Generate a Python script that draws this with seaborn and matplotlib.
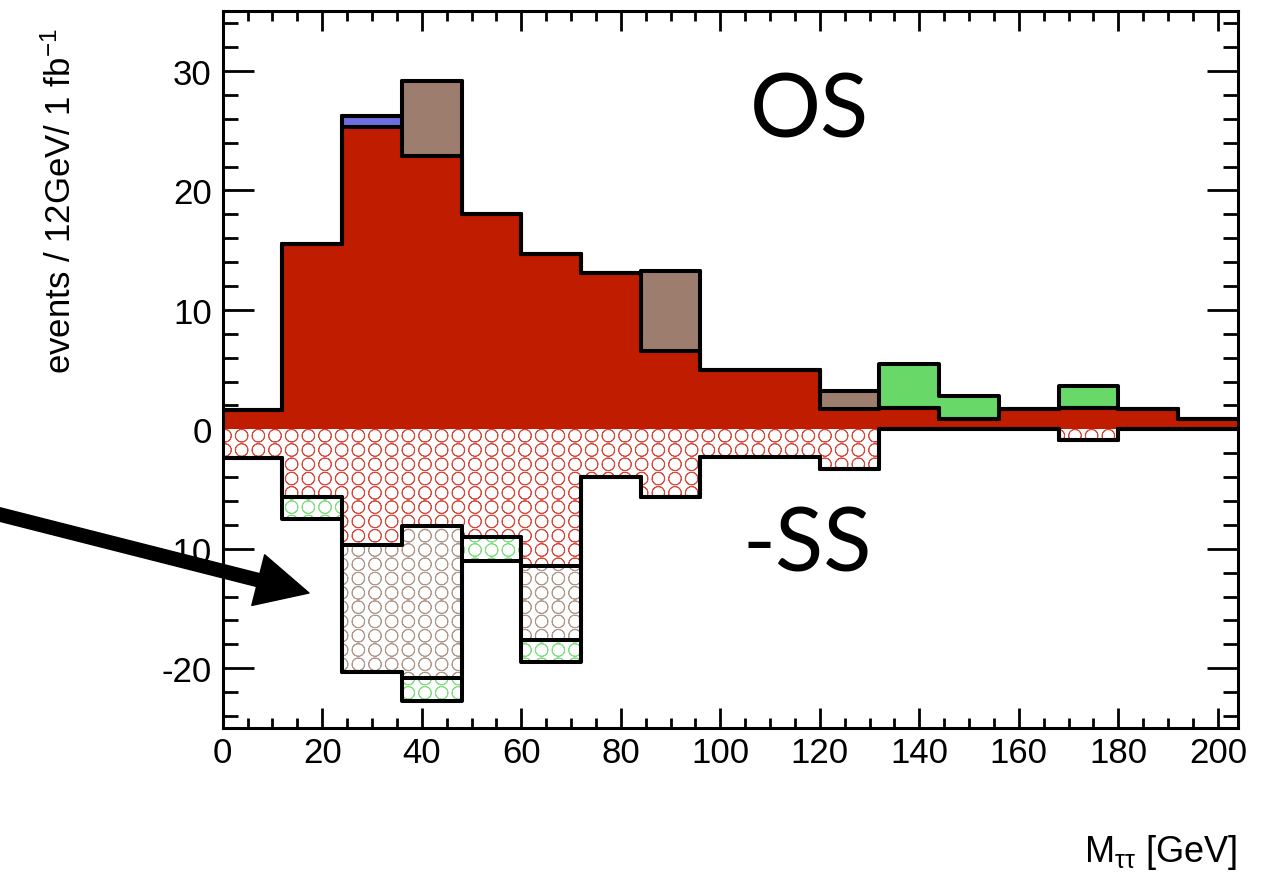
import numpy as np
import pandas as pd
import matplotlib
matplotlib.use("Agg")
import matplotlib.pyplot as plt
import matplotlib.hatch as mhatch
from matplotlib.path import Path
import seaborn as sns
from matplotlib.ticker import MultipleLocator

# ---------------- data ----------------
bin_edges = list(range(0, 205, 12))          # 0,12,...,204 (17 bins of 12 GeV)
bin_centers = [(a + b) / 2 for a, b in zip(bin_edges[:-1], bin_edges[1:])]

# opposite-sign (drawn upward), stacked bottom -> top
os_red   = [1.6, 15.5, 25.3, 22.9, 18.0, 14.7, 13.1, 6.6, 5.0, 5.0, 1.7, 1.8, 0.85, 1.7, 1.8, 1.7, 0.9]
os_blue  = [0.0, 0.0, 0.9, 0.0, 0.0, 0.0, 0.0, 0.0, 0.0, 0.0, 0.0, 0.0, 0.0, 0.0, 0.0, 0.0, 0.0]
os_brown = [0.0, 0.0, 0.0, 6.3, 0.0, 0.0, 0.0, 6.7, 0.0, 0.0, 1.5, 0.0, 0.0, 0.0, 0.0, 0.0, 0.0]
os_green = [0.0, 0.0, 0.0, 0.0, 0.0, 0.0, 0.0, 0.0, 0.0, 0.0, 0.0, 3.7, 1.95, 0.0, 1.8, 0.0, 0.0]

# same-sign (drawn downward as -SS), stacked from zero outward
ss_red   = [2.4, 5.7, 9.7, 8.1, 9.0, 11.4, 4.0, 5.7, 2.3, 2.3, 3.3, 0.0, 0.0, 0.0, 0.85, 0.0, 0.0]
ss_brown = [0.0, 0.0, 10.6, 12.7, 0.0, 6.2, 0.0, 0.0, 0.0, 0.0, 0.0, 0.0, 0.0, 0.0, 0.0, 0.0, 0.0]
ss_green = [0.0, 1.8, 0.0, 1.9, 2.0, 1.9, 0.0, 0.0, 0.0, 0.0, 0.0, 0.0, 0.0, 0.0, 0.0, 0.0, 0.0]

x_ticks = [0, 20, 40, 60, 80, 100, 120, 140, 160, 180, 200]
y_ticks = [-20, -10, 0, 10, 20, 30]


# ---------------- ROOT-like square grid of open circles for the 'O' hatch ----------------
class GridCircles(mhatch.HatchPatternBase):
    filled = False
    cols_per_unit = 6
    rows_per_unit = 7
    radius = 0.064
    inner = 0.94

    def __init__(self, hatch, density):
        n = hatch.count("O")
        self.ncols = n * self.cols_per_unit
        self.nrows = n * self.rows_per_unit
        circ = Path.unit_circle()
        # open ring: outer circle forward, inner circle backward
        self.shape_vertices = np.concatenate([circ.vertices, circ.vertices[::-1] * self.inner])
        self.shape_codes = np.concatenate([circ.codes, circ.codes])
        self.num_shapes = self.ncols * self.nrows
        self.num_vertices = self.num_shapes * len(self.shape_vertices)

    def set_vertices_and_codes(self, vertices, codes):
        sv = self.shape_vertices * self.radius
        m = len(sv)
        k = 0
        for r in range(self.nrows):
            for c in range(self.ncols):
                centre = ((c + 0.5) / self.ncols, (r + 0.5) / self.nrows)
                vertices[k * m:(k + 1) * m] = sv + centre
                codes[k * m:(k + 1) * m] = self.shape_codes
                k += 1


mhatch._hatch_types = [GridCircles if t is mhatch.LargeCircles else t
                       for t in mhatch._hatch_types]

# ---------------- style ----------------
sns.set_theme(style="ticks")
plt.rcParams["font.family"] = ["Liberation Sans", "DejaVu Sans"]
plt.rcParams["mathtext.fontset"] = "custom"
plt.rcParams["mathtext.rm"] = "Liberation Sans"
plt.rcParams["mathtext.it"] = "Liberation Sans"
plt.rcParams["mathtext.bf"] = "Liberation Sans:bold"
plt.rcParams["axes.unicode_minus"] = False
plt.rcParams["hatch.linewidth"] = 0.6
for k in ["text.color", "axes.labelcolor", "xtick.color", "ytick.color", "axes.edgecolor"]:
    plt.rcParams[k] = "black"

RED, BLUE, BROWN, GREEN = "#C01C00", "#6E6EE0", "#9D7E6E", "#68D968"
H_RED, H_BROWN, H_GREEN = "#D8483A", "#AE978A", "#7FDC7F"

fig = plt.figure(figsize=(12.67, 8.78), dpi=100)
ax = fig.add_axes([0.1758, 0.1697, 0.8011, 0.8163])


def layer_df(values):
    return pd.DataFrame({"mass": bin_centers, "w": list(values)})


def fill_layer(values, face, hatch=None, hatch_color=None):
    sns.histplot(data=layer_df(values), x="mass", weights="w", bins=bin_edges,
                 element="step", fill=True, color=face, alpha=1, linewidth=0,
                 ax=ax, legend=False)
    coll = ax.collections[-1]
    coll.set_linewidth(0)
    if hatch is not None:
        coll.set_facecolor("white")
        coll.set_edgecolor(hatch_color)
        coll.set_hatch(hatch)
        coll.set_linewidth(0)
    else:
        coll.set_facecolor(face)
        coll.set_edgecolor(face)


def outline_layer(values):
    sns.histplot(data=layer_df(values), x="mass", weights="w", bins=bin_edges,
                 element="step", fill=False, color="black", linewidth=2.9,
                 ax=ax, legend=False)


# cumulative stacks
c1 = np.array(os_red)
c2 = c1 + np.array(os_blue)
c3 = c2 + np.array(os_brown)
c4 = c3 + np.array(os_green)
n1 = -np.array(ss_red)
n2 = n1 - np.array(ss_brown)
n3 = n2 - np.array(ss_green)

fill_layer(c4, GREEN)
fill_layer(c3, BROWN)
fill_layer(c2, BLUE)
fill_layer(c1, RED)
fill_layer(n3, "white", "O", H_GREEN)
fill_layer(n2, "white", "O", H_BROWN)
fill_layer(n1, "white", "O", H_RED)
for v in [c4, c3, c2, c1, n3, n2, n1]:
    outline_layer(v)

# ---------------- axes ----------------
ax.set_xlim(0, 204)
ax.set_ylim(-25, 35)
ax.set_xticks(x_ticks)
ax.set_yticks(y_ticks)
ax.xaxis.set_minor_locator(MultipleLocator(5))
ax.yaxis.set_minor_locator(MultipleLocator(2))
ax.tick_params(which="both", direction="in", top=True, right=True, width=2.0,
               labelsize=25, colors="black")
ax.xaxis.set_tick_params(which="major", length=14.5, pad=6)
ax.xaxis.set_tick_params(which="minor", length=7.2)
ax.yaxis.set_tick_params(which="major", length=22.5, pad=8)
ax.yaxis.set_tick_params(which="minor", length=11)
for s in ax.spines.values():
    s.set_linewidth(2.2)
    s.set_color("black")
    s.set_visible(True)

ax.set_ylabel(r"events / 12GeV/ 1 fb$^{\mathrm{-1}}$", fontsize=25, loc="top")
ax.yaxis.set_label_coords(-0.143, 0.978)
ax.set_xlabel(r"M$_{\mathrm{ττ}}$ [GeV]", fontsize=26, loc="right")
ax.xaxis.set_label_coords(1.0, -0.145)

ax.text(118, 26.6, "OS", fontsize=64, family=["Lato", "DejaVu Sans"], ha="center", va="center")
ax.text(117.5, -9.7, "-SS", fontsize=64, family=["Lato", "DejaVu Sans"], ha="center", va="center")

ax.annotate("", xy=(309, 284), xytext=(-10, 365), xycoords="figure pixels",
            textcoords="figure pixels", annotation_clip=False,
            arrowprops=dict(arrowstyle="simple,head_length=37.7,head_width=37.6,tail_width=9.5",
                            mutation_scale=1, color="black", shrinkA=0, shrinkB=0))

fig.savefig("out.png", dpi=100)
